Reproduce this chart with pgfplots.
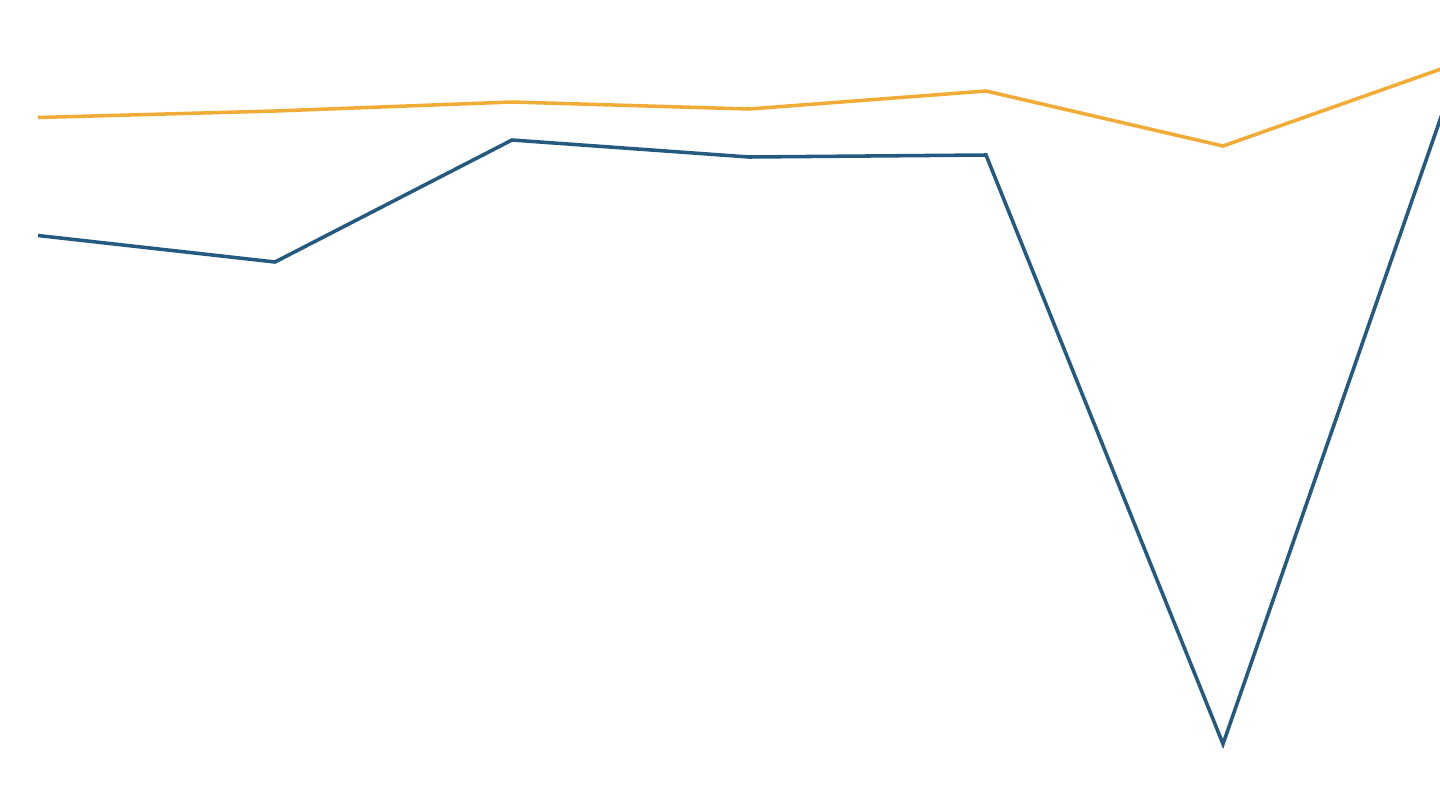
\documentclass[border=0pt]{standalone}
\usepackage{pgfplots}
\pgfplotsset{compat=1.18}
\definecolor{lineorange}{HTML}{F0AC36}
\definecolor{lineblue}{HTML}{245A80}

\begin{document}
\begin{tikzpicture}
\useasboundingbox (0,0) rectangle (15cm,8.4375cm);
\begin{axis}[
    at={(0,0)}, anchor=south west,
    width=15cm, height=8.4375cm,
    scale only axis,
    hide axis,
    clip=true,
    xmin=-0.1603, xmax=5.9156,
    ymin=0, ymax=810,
]
    % upper series
    \addplot[lineorange, line width=1.05pt, line join=miter] coordinates {
        (0, 692.5) (1, 699) (2, 708) (3, 701) (4, 719) (5, 664) (6, 747.7)
    };
    % lower series
    \addplot[lineblue, line width=1.05pt, line join=miter] coordinates {
        (0, 574.5) (1, 548) (2, 670) (3, 653) (4, 655) (5, 66) (6, 747.6)
    };
\end{axis}
\end{tikzpicture}
\end{document}
